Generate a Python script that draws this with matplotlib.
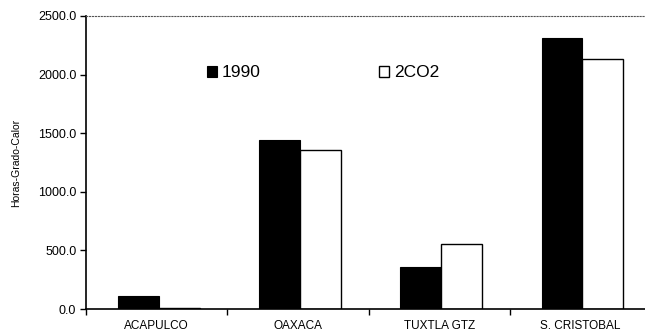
import numpy as np
import matplotlib.pyplot as plt
from matplotlib.ticker import FormatStrFormatter

plt.rcParams['font.family'] = ['Liberation Sans', 'DejaVu Sans']

cities = ['ACAPULCO', 'OAXACA', 'TUXTLA GTZ', 'S. CRISTOBAL']
vals_1990 = [108, 1442, 358, 2312]
vals_2002 = [12, 1357, 555, 2133]
series_names = ['1990', '2CO2']


def main():
    fig = plt.figure(figsize=(6.45, 3.34), dpi=100)
    # right edge of the plot runs past the picture, as in the scan
    ax = fig.add_axes([86 / 645, 25 / 334, 565 / 645, 293 / 334])

    x = np.arange(len(cities))
    w = 0.29
    b1 = ax.bar(x - w / 2 + 0.015, vals_1990, w, color='black', edgecolor='black',
                linewidth=0.8, label=series_names[0])
    b2 = ax.bar(x + w / 2 + 0.015, vals_2002, w, color='white', edgecolor='black',
                linewidth=1.0, label=series_names[1])

    ax.set_xlim(-0.5, len(cities) - 0.5)
    ax.set_ylim(0, 2500)
    ax.set_yticks(np.arange(0, 2501, 500))
    ax.yaxis.set_major_formatter(FormatStrFormatter('%.1f'))
    ax.set_xticks(x)
    ax.set_xticklabels(cities)
    ax.set_xticks(np.arange(-0.5, len(cities), 1), minor=True)
    ax.tick_params(axis='x', which='major', length=0, pad=8, labelsize=8.5)
    ax.tick_params(axis='x', which='minor', length=4, direction='out', width=1)
    ax.tick_params(axis='y', length=4, direction='out', width=1, labelsize=9, pad=3)

    ax.set_ylabel('Horas-Grado-Calor', fontsize=7.5, labelpad=12)

    ax.spines['right'].set_visible(False)
    ax.spines['top'].set_linestyle(':')
    ax.spines['top'].set_linewidth(0.8)
    ax.spines['top'].set_color('#555555')
    ax.spines['left'].set_linewidth(1.2)
    ax.spines['bottom'].set_linewidth(1.2)

    ax.legend(handles=[b1, b2], loc='upper left', bbox_to_anchor=(0.187, 0.885),
              ncol=2, frameon=False, fontsize=12.5, handlelength=0.55,
              handleheight=0.6, handletextpad=0.3, columnspacing=6.8)

    fig.savefig('out.png', dpi=100)
    plt.close(fig)


if __name__ == '__main__':
    main()
